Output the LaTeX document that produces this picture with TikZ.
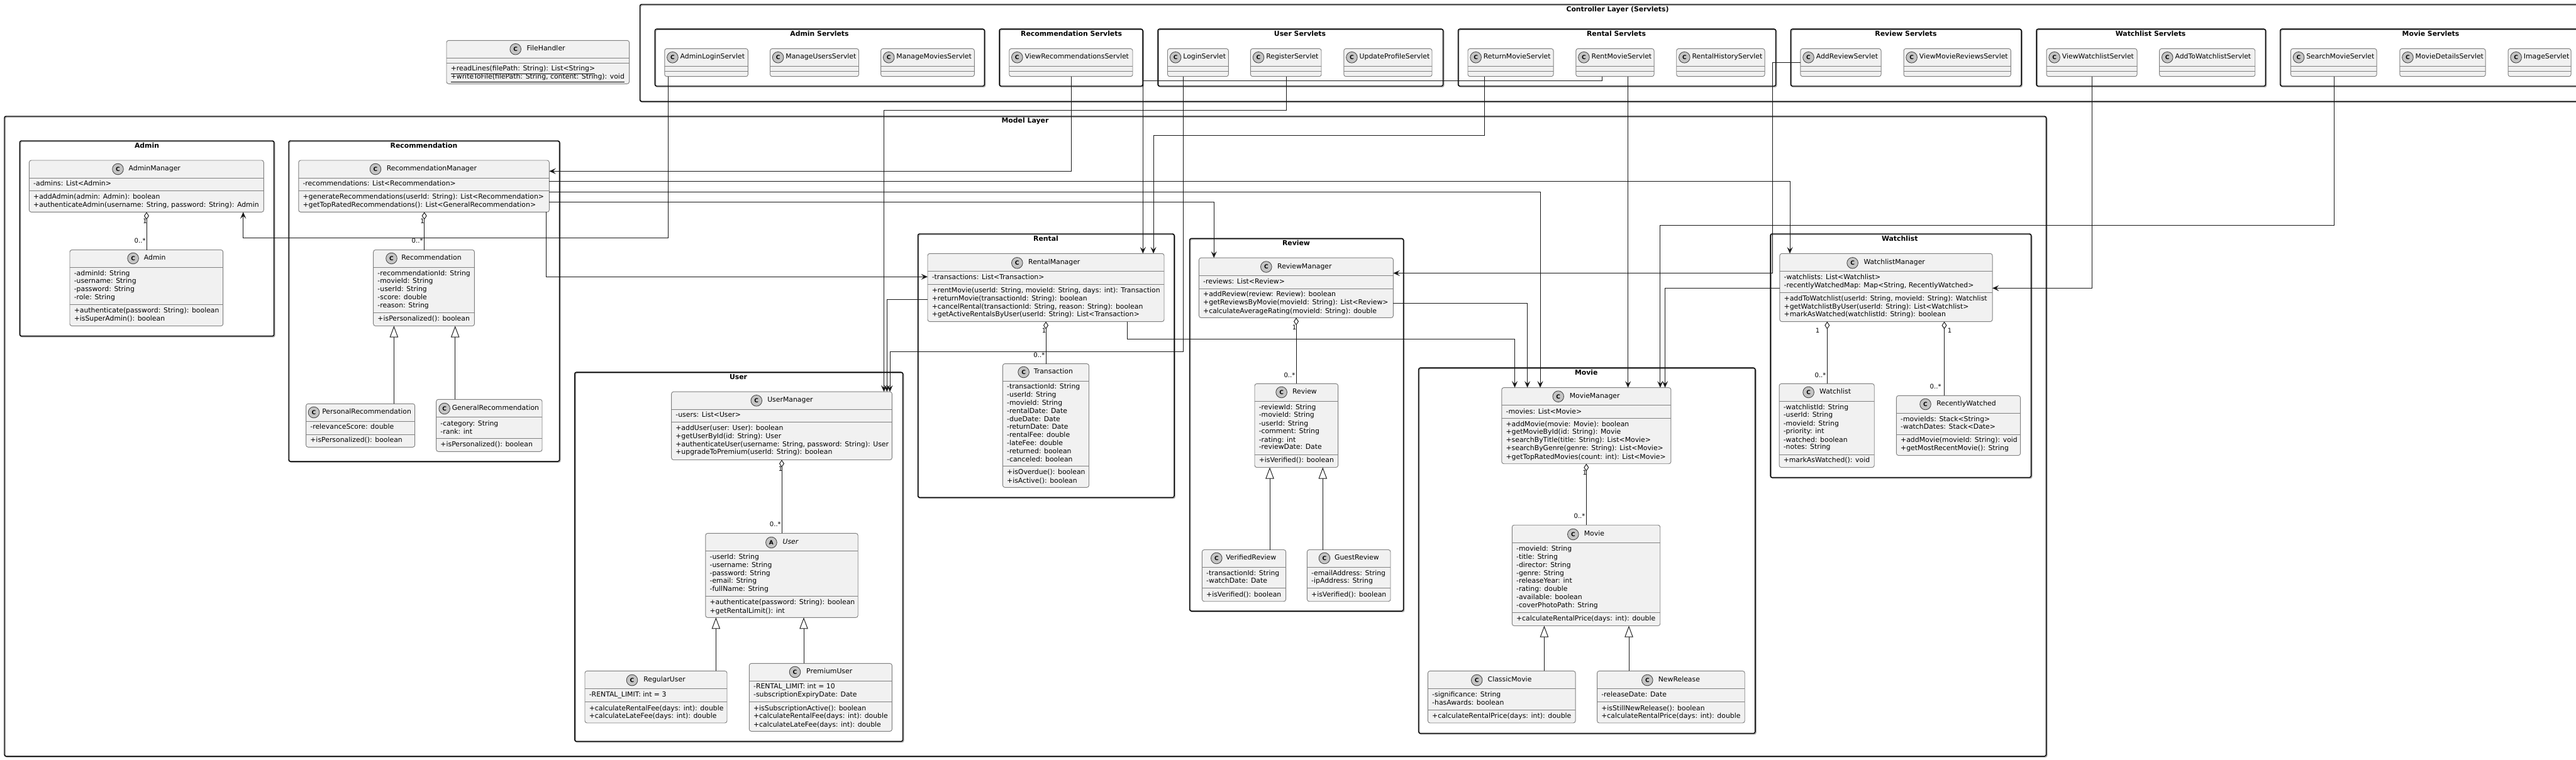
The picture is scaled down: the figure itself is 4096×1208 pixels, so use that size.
\documentclass[tikz,border=0pt]{standalone}
\usepackage{fontspec}
\setmainfont{DejaVu Sans}
\usetikzlibrary{arrows.meta,fit}
\definecolor{boxfill}{HTML}{F1F1F1}
\definecolor{boxline}{HTML}{808080}
\definecolor{circfill}{HTML}{C4C4C4}
\definecolor{linec}{HTML}{181818}
\definecolor{shadowc}{HTML}{A8A8A8}
\tikzset{
  pkgbox/.style={draw=black,line width=1.1pt,rounded corners=2pt,inner sep=0pt,outer sep=0pt},
  pkgshadow/.style={draw=shadowc,line width=1pt,rounded corners=2pt},
  pkgtitle/.style={font=\fontsize{8.15}{10}\selectfont\bfseries,inner sep=0pt,text height=6pt,text depth=2pt},
  classbox/.style={draw=boxline,fill=boxfill,line width=.7pt,rounded corners=2.5pt,inner sep=0pt,outer sep=0pt},
  sepline/.style={draw=boxline,line width=.7pt},
  headcircle/.style={circle,draw=linec!80,fill=circfill,line width=.65pt,minimum size=13.2pt,inner sep=0pt,font=\fontsize{6.8}{8}\selectfont\bfseries,text=black},
  nametext/.style={anchor=west,inner sep=0pt,font=\fontsize{8.15}{10}\selectfont,text height=6pt,text depth=2pt},
  membertext/.style={anchor=west,inner sep=0pt,font=\fontsize{8.15}{10}\selectfont,text height=6pt,text depth=2pt},
  multlabel/.style={inner sep=0pt,font=\fontsize{7.6}{9}\selectfont,text=black},
  conn/.style={draw=linec,line width=.7pt,-{Stealth[length=7.8pt,width=6.8pt,inset=3.2pt]}},
  aggr/.style={draw=linec,line width=.7pt,{Diamond[open,fill=white,length=9pt,width=6pt]}-},
  inherit/.style={draw=linec,line width=.7pt,-{Triangle[open,fill=white,length=13.5pt,width=10pt]}},
}
\newcount\tcnt
\def\cletter{C}
% id x1 y1 x2 y2 title titlex titley
\newcommand{\pkg}[8]{%
  \draw[pkgshadow] (#2+1.3,#3+1.3) rectangle (#4+1.3,#5+1.3);
  \node[pkgbox,fit={(#2,#3)(#4,#5)}] (#1) {};
  \node[pkgtitle] (#1t) at (#7,#8) {#6};
}
% id x1 y1 x2 y2 circlex namex namey name
\newcommand{\umlclass}[9]{%
  \node[classbox,fit={(#2,#3)(#4,#5)}] (#1) {};
  \node[headcircle] (#1c) at (#6,#8) {\cletter};
  \node[nametext] (#1n) at (#7,#8) {#9};
}
% x1 x2 {separator ys} {y/text list}
\newcommand{\members}[4]{%
  \foreach \yy in {#3} {\draw[sepline] (#1,\yy) -- (#2,\yy);}
  \foreach \yy/\tx in {#4} {%
    \global\advance\tcnt by 1
    \node[membertext] (mem\the\tcnt) at (#1+6.5,\yy) {\tx};
  }%
}
% servlet: id x1 x2 name
\newcommand{\servlet}[4]{%
  \umlclass{#1}{#2}{77.4}{#3}{121.7}{#2+12.6}{#2+24.6}{91.3}{#4}
  \draw[sepline] (#2,105.5) -- (#3,105.5);
  \draw[sepline] (#2,113.2) -- (#3,113.2);
}
\newcommand{\mult}[4]{\node[multlabel] (#1) at (#2,#3) {#4};}
\begin{document}
\begin{tikzpicture}[x=0.75pt,y=-0.75pt]
\clip (0,0) rectangle (4096,1208);
\fill[white] (0,0) rectangle (4096,1208);

% ---- packages
\pkg{ctrl}{1017.5}{7}{4127}{161.4}{Controller Layer (Servlets)}{2572}{15.4}
\pkg{padm}{1041.4}{46.2}{1565.4}{137}{Admin Servlets}{1303}{54.5}
\pkg{prec}{1589}{46.2}{1817}{137}{Recommendation Servlets}{1703.6}{54.5}
\pkg{pusr}{1841}{46.2}{2294.6}{137}{User Servlets}{2067}{54.5}
\pkg{prnt}{2318.5}{46.2}{2823.6}{137}{Rental Servlets}{2570}{54.5}
\pkg{prev}{2847.4}{46.2}{3214}{137}{Review Servlets}{3030.5}{54.5}
\pkg{pwat}{3238}{46.2}{3602.4}{137}{Watchlist Servlets}{3419.6}{54.5}
\pkg{pmov}{3625.7}{46.2}{4104}{137}{Movie Servlets}{3865}{54.5}

\pkg{model}{7}{185}{3253.5}{1203}{Model Layer}{1630}{193}
\pkg{Padmin}{31.4}{224}{435.7}{534.7}{Admin}{233.5}{232.5}
\pkg{Prec}{459}{224}{889.6}{734}{Recommendation}{674}{232.5}
\pkg{Prental}{1459.5}{372}{1867}{791.4}{Rental}{1663}{381}
\pkg{Puser}{913.8}{592.2}{1435.6}{1179.4}{User}{1174}{600.5}
\pkg{Previewp}{1891.6}{379.4}{2231.5}{972}{Review}{2061}{387.5}
\pkg{Pmovie}{2255.7}{585.2}{2790.8}{1166.6}{Movie}{2522.3}{594}
\pkg{Pwatch}{2815}{372}{3229.5}{759.6}{Watchlist}{3020.7}{381}

% ---- file handler
\umlclass{fh}{710}{64.3}{1000.6}{133.3}{819.7}{837.4}{78.2}{FileHandler}
\members{710}{1000.6}{92.4,100.5}{110.2/{\underline{+readLines(filePath: String): List<String>}},123.3/{\underline{+writeToFile(filePath: String, content: String): void}}}

% ---- servlets
\servlet{sAdminLogin}{1056.8}{1189.4}{AdminLoginServlet}
\servlet{sManageUsers}{1224.5}{1365.5}{ManageUsersServlet}
\servlet{sManageMovies}{1400.6}{1549.3}{ManageMoviesServlet}
\servlet{sViewRec}{1604.7}{1801}{ViewRecommendationsServlet}
\servlet{sLogin}{1856.5}{1953.3}{LoginServlet}
\servlet{sRegister}{1988.4}{2101}{RegisterServlet}
\servlet{sUpdate}{2136.8}{2277}{UpdateProfileServlet}
\servlet{sReturn}{2334}{2470}{ReturnMovieServlet}
\servlet{sRent}{2505.8}{2630}{RentMovieServlet}
\servlet{sHistory}{2665.7}{2806}{RentalHistoryServlet}
\servlet{sAddRev}{2862.9}{2991}{AddReviewServlet}
\servlet{sViewRev}{3027}{3197.4}{ViewMovieReviewsServlet}
\servlet{sViewWatch}{3254}{3398}{ViewWatchlistServlet}
\servlet{sAddWatch}{3433.6}{3585.7}{AddToWatchlistServlet}
\servlet{sSearch}{3642.4}{3779}{SearchMovieServlet}
\servlet{sDetails}{3815.8}{3952}{MovieDetailsServlet}
\servlet{sImage}{3988}{4088}{ImageServlet}

% ---- admin
\umlclass{AdminManager}{46.4}{255}{419.3}{337.4}{187.5}{204.4}{269}{AdminManager}
\members{46.4}{419.3}{283,303.5}{293/{-admins: List<Admin>},314/{+addAdmin(admin: Admin): boolean},327/{+authenticateAdmin(username: String, password: String): Admin}}
\umlclass{AdminC}{111}{397.5}{354.7}{518.5}{211.6}{228.6}{411}{Admin}
\members{111}{354.7}{425.7,484}{436/{-adminId: String},448/{-username: String},461/{-password: String},474/{-role: String},495/{+authenticate(password: String): boolean},508/{+isSuperAdmin(): boolean}}

% ---- recommendation
\umlclass{RecManager}{474.8}{255}{873.3}{337.4}{597}{614.6}{269}{RecommendationManager}
\members{474.8}{873.3}{283,303.5}{293/{-recommendations: List<Recommendation>},314/{+generateRecommendations(userId: String): List<Recommendation>},327/{+getTopRatedRecommendations(): List<GeneralRecommendation>}}
\umlclass{RecC}{593.7}{397.5}{754.4}{518.5}{622.5}{638}{411}{Recommendation}
\members{593.7}{754.4}{425.7,497.3}{436/{-recommendationId: String},448/{-movieId: String},461/{-userId: String},474/{-score: double},487/{-reason: String},508/{+isPersonalized(): boolean}}
\umlclass{PersonalRec}{486.6}{642.3}{659.7}{711.3}{499}{512}{656}{PersonalRecommendation}
\members{486.6}{659.7}{670.6,691.5}{680/{-relevanceScore: double},701.2/{+isPersonalized(): boolean}}
\umlclass{GeneralRec}{693.7}{635.3}{862}{718.3}{706.7}{718.5}{650}{GeneralRecommendation}
\members{693.7}{862}{663.2,697.3}{674.4/{-category: String},687.6/{-rank: int},708/{+isPersonalized(): boolean}}

% ---- rental
\umlclass{RentalManager}{1475}{403.3}{1851}{511.6}{1617.3}{1634.9}{418.3}{RentalManager}
\members{1475}{1851}{431.4,452.2}{442.2/{-transactions: List<Transaction>},463/{+rentMovie(userId: String, movieId: String, days: int): Transaction},476/{+returnMovie(transactionId: String): boolean},488.5/{+cancelRental(transactionId: String, reason: String): boolean},501/{+getActiveRentalsByUser(userId: String): List<Transaction>}}
\umlclass{TransactionC}{1594.4}{578.6}{1731.5}{775.3}{1627.6}{1643.5}{592}{Transaction}
\members{1594.4}{1731.5}{606.3,741.8}{616.2/{-transactionId: String},629/{-userId: String},642.2/{-movieId: String},655/{-rentalDate: Date},668.3/{-dueDate: Date},680.2/{-returnDate: Date},693/{-rentalFee: double},706.3/{-lateFee: double},719/{-returned: boolean},732.3/{-canceled: boolean},752/{+isOverdue(): boolean},765.4/{+isActive(): boolean}}

% ---- user
\umlclass{UserManager}{1067.6}{623.2}{1418.4}{731.5}{1202.8}{1220}{637.3}{UserManager}
\members{1067.6}{1418.4}{651.3,671.6}{661.2/{-users: List<User>},682.3/{+addUser(user: User): boolean},695/{+getUserById(id: String): User},708.3/{+authenticateUser(username: String, password: String): User},720.3/{+upgradeToPremium(userId: String): boolean}}
\def\cletter{A}
\umlclass{UserC}{1121.8}{848.4}{1364.2}{982.3}{1226.4}{1244.3}{863}{\itshape User}
\def\cletter{C}
\members{1121.8}{1364.2}{876.5,948.4}{887.3/{-userId: String},900/{-username: String},913.3/{-password: String},925.3/{-email: String},938/{-fullName: String},959.2/{+authenticate(password: String): boolean},972.4/{+getRentalLimit(): int}}
\umlclass{RegularUser}{930}{1067.4}{1156}{1150}{1005}{1023}{1082}{RegularUser}
\members{930}{1156}{1095.5,1116.2}{1106.3/{-RENTAL\_LIMIT: int = 3},1127.4/{+calculateRentalFee(days: int): double},1140/{+calculateLateFee(days: int): double}}
\umlclass{PremiumUser}{1191.3}{1055.4}{1418.4}{1163.3}{1264}{1281.9}{1069}{PremiumUser}
\members{1191.3}{1418.4}{1083.6,1116.2}{1093/{-RENTAL\_LIMIT: int = 10},1106/{-subscriptionExpiryDate: Date},1127.4/{+isSubscriptionActive(): boolean},1140.2/{+calculateRentalFee(days: int): double},1153.4/{+calculateLateFee(days: int): double}}

% ---- review
\umlclass{ReviewManager}{1906.4}{410.2}{2215.4}{505.4}{2013.3}{2030.9}{424.5}{ReviewManager}
\members{1906.4}{2215.4}{438.4,459.2}{448.4/{-reviews: List<Review>},469.2/{+addReview(review: Review): boolean},482.3/{+getReviewsByMovie(movieId: String): List<Review>},495.4/{+calculateAverageRating(movieId: String): double}}
\umlclass{ReviewC}{1995}{610.4}{2127.6}{743.5}{2037.6}{2054.8}{624}{Review}
\members{1995}{2127.6}{638.5,723.2}{648.4/{-reviewId: String},661.2/{-movieId: String},674.5/{-userId: String},687.3/{-comment: String},700.5/{-rating: int},712/{-reviewDate: Date},733/{+isVerified(): boolean}}
\umlclass{VerifiedReview}{1911.4}{874.5}{2044.6}{956.7}{1934.3}{1949}{888}{VerifiedReview}
\members{1911.4}{2044.6}{902.6,935.6}{913.3/{-transactionId: String},925.3/{-watchDate: Date},946.4/{+isVerified(): boolean}}
\umlclass{GuestReview}{2078.4}{874.5}{2211}{956.7}{2105.9}{2121.8}{888}{GuestReview}
\members{2078.4}{2211}{902.6,935.6}{913.3/{-emailAddress: String},925.3/{-ipAddress: String},946.4/{+isVerified(): boolean}}

% ---- movie
\umlclass{MovieManager}{2387.8}{616.6}{2656.9}{737.7}{2477.7}{2495.5}{630.7}{MovieManager}
\members{2387.8}{2656.9}{644.7,665.4}{655.5/{-movies: List<Movie>},676/{+addMovie(movie: Movie): boolean},688/{+getMovieById(id: String): Movie},701.3/{+searchByTitle(title: String): List<Movie>},714.1/{+searchByGenre(genre: String): List<Movie>},727.4/{+getTopRatedMovies(count: int): List<Movie>}}
\umlclass{MovieC}{2404.3}{835.2}{2639.7}{995.5}{2501.3}{2518.5}{850}{Movie}
\members{2404.3}{2639.7}{863.3,974.5}{874/{-movieId: String},887.3/{-title: String},900/{-director: String},913.3/{-genre: String},925.3/{-releaseYear: int},938/{-rating: double},951.3/{-available: boolean},964/{-coverPhotoPath: String},985.2/{+calculateRentalPrice(days: int): double}}
\umlclass{ClassicMovie}{2270.4}{1067.4}{2505}{1150}{2348.2}{2365.4}{1082}{ClassicMovie}
\members{2270.4}{2505}{1095.5,1129.4}{1106.3/{-significance: String},1119/{-hasAwards: boolean},1140/{+calculateRentalPrice(days: int): double}}
\umlclass{NewRelease}{2539.5}{1067.4}{2774.2}{1150}{2619.3}{2636.5}{1082}{NewRelease}
\members{2539.5}{2774.2}{1095.5,1116.2}{1106.3/{-releaseDate: Date},1127.4/{+isStillNewRelease(): boolean},1140/{+calculateRentalPrice(days: int): double}}

% ---- watchlist
\umlclass{WatchManager}{2829.9}{403.3}{3168}{511.6}{2945.6}{2963.2}{418.3}{WatchlistManager}
\members{2829.9}{3168}{431.4,465.3}{442.2/{-watchlists: List<Watchlist>},455.3/{-recentlyWatchedMap: Map<String, RecentlyWatched>},476/{+addToWatchlist(userId: String, movieId: String): Watchlist},488.5/{+getWatchlistByUser(userId: String): List<Watchlist>},501/{+markAsWatched(watchlistId: String): boolean}}
\umlclass{WatchC}{2829}{610.4}{2980.2}{743.5}{2875.6}{2892.9}{624}{Watchlist}
\members{2829}{2980.2}{638.5,723.2}{648.4/{-watchlistId: String},661.2/{-userId: String},674.5/{-movieId: String},687.3/{-priority: int},700.5/{-watched: boolean},712/{-notes: String},733/{+markAsWatched(): void}}
\umlclass{RecentC}{3015.4}{629.4}{3212.5}{724.5}{3061.5}{3079}{643}{RecentlyWatched}
\members{3015.4}{3212.5}{657.5,691.4}{668.3/{-movieIds: Stack<String>},680.2/{-watchDates: Stack<Date>},701.3/{+addMovie(movieId: String): void},714/{+getMostRecentMovie(): String}}

% ---- aggregations
\draw[aggr] (233,0 |- AdminManager.south) -- (233,0 |- AdminC.north);
\draw[aggr] (674.7,0 |- RecManager.south) -- (674.7,0 |- RecC.north);
\draw[aggr] (1663,0 |- RentalManager.south) -- (1663,0 |- TransactionC.north);
\draw[aggr] (1243,0 |- UserManager.south) -- (1243,0 |- UserC.north);
\draw[aggr] (2061,0 |- ReviewManager.south) -- (2061,0 |- ReviewC.north);
\draw[aggr] (2522.3,0 |- MovieManager.south) -- (2522.3,0 |- MovieC.north);
\draw[aggr] (2905.3,0 |- WatchManager.south) -- (2905.3,0 |- WatchC.north);
\draw[aggr] (3091.5,0 |- WatchManager.south) -- (3091.5,0 |- RecentC.north);

\mult{m1a}{230.5}{352}{1}\mult{m1b}{222.7}{383}{0..*}
\mult{m2a}{671.5}{352}{1}\mult{m2b}{663.6}{383}{0..*}
\mult{m3a}{1660}{526}{1}\mult{m3b}{1652.4}{564.7}{0..*}
\mult{m4a}{1241}{745.5}{1}\mult{m4b}{1232.8}{834}{0..*}
\mult{m5a}{2058}{520.8}{1}\mult{m5b}{2050.5}{596.3}{0..*}
\mult{m6a}{2519.8}{751.7}{1}\mult{m6b}{2511.5}{821}{0..*}
\mult{m7a}{2890}{526}{1}\mult{m7b}{2894.5}{596.3}{0..*}
\mult{m8a}{3100}{526}{1}\mult{m8b}{3077.6}{615}{0..*}

% ---- inheritance
\draw[inherit] (626.4,0 |- PersonalRec.north) -- (626.4,0 |- RecC.south);
\draw[inherit] (723.7,0 |- GeneralRec.north) -- (723.7,0 |- RecC.south);
\draw[inherit] (1138.4,0 |- RegularUser.north) -- (1138.4,0 |- UserC.south);
\draw[inherit] (1278,0 |- PremiumUser.north) -- (1278,0 |- UserC.south);
\draw[inherit] (2019,0 |- VerifiedReview.north) -- (2019,0 |- ReviewC.south);
\draw[inherit] (2103.3,0 |- GuestReview.north) -- (2103.3,0 |- ReviewC.south);
\draw[inherit] (2455.4,0 |- ClassicMovie.north) -- (2455.4,0 |- MovieC.south);
\draw[inherit] (2590,0 |- NewRelease.north) -- (2590,0 |- MovieC.south);

% ---- dependencies
\draw[conn] (1062.4,0 |- sAdminLogin.south) -- (1062.4,378.3) -- (386.7,378.3) -- (386.7,0 |- AdminManager.south);
\draw[conn] (1703.6,0 |- sViewRec.south) -- (1703.6,272.3) -- (RecManager.east |- 0,272.3);
\draw[conn] (RecManager.east |- 0,288.5) -- (2846,288.5) -- (2846,0 |- WatchManager.north);
\draw[conn] (RecManager.east |- 0,305.5) -- (2449,305.5) -- (2449,0 |- MovieManager.north);
\draw[conn] (RecManager.east |- 0,321.3) -- (1930.2,321.3) -- (1930.2,0 |- ReviewManager.north);
\draw[conn] (868,0 |- RecManager.south) -- (868,440.3) -- (RentalManager.west |- 0,440.3);
\draw[conn] (1792,0 |- RentalManager.south) -- (1792,539.3) -- (2408.5,539.3) -- (2408.5,0 |- MovieManager.north);
\draw[conn] (ReviewManager.east |- 0,482.3) -- (2428.6,482.3) -- (2428.6,0 |- MovieManager.north);
\draw[conn] (WatchManager.west |- 0,458.4) -- (2647.5,458.4) -- (2647.5,0 |- MovieManager.north);
\draw[conn] (3711.8,0 |- sSearch.south) -- (3711.8,358.2) -- (2639.8,358.2) -- (2639.8,0 |- MovieManager.north);
\draw[conn] (2588.6,0 |- sRent.south) -- (2588.6,0 |- MovieManager.north);
\draw[conn] (2547.2,0 |- sRent.south) -- (2547.2,128.3) -- (1817.3,128.3) -- (1817.3,0 |- RentalManager.north);
\draw[conn] (2360.6,0 |- sReturn.south) -- (2360.6,215.3) -- (1834,215.3) -- (1834,0 |- RentalManager.north);
\draw[conn] (2045.6,0 |- sRegister.south) -- (2045.6,175.3) -- (1405.5,175.3) -- (1405.5,0 |- UserManager.north);
\draw[conn] (RentalManager.west |- 0,476) -- (1410.3,476) -- (1410.3,0 |- UserManager.north);
\draw[conn] (1881,0 |- sLogin.south) -- (1881,559.3) -- (1415,559.3) -- (1415,0 |- UserManager.north);
\draw[conn] (sAddRev.west |- 0,99.4) -- (2818.7,99.4) -- (2818.7,434.5) -- (ReviewManager.east |- 0,434.5);
\draw[conn] (3326.2,0 |- sViewWatch.south) -- (3326.2,458.4) -- (WatchManager.east |- 0,458.4);
\end{tikzpicture}
\end{document}
